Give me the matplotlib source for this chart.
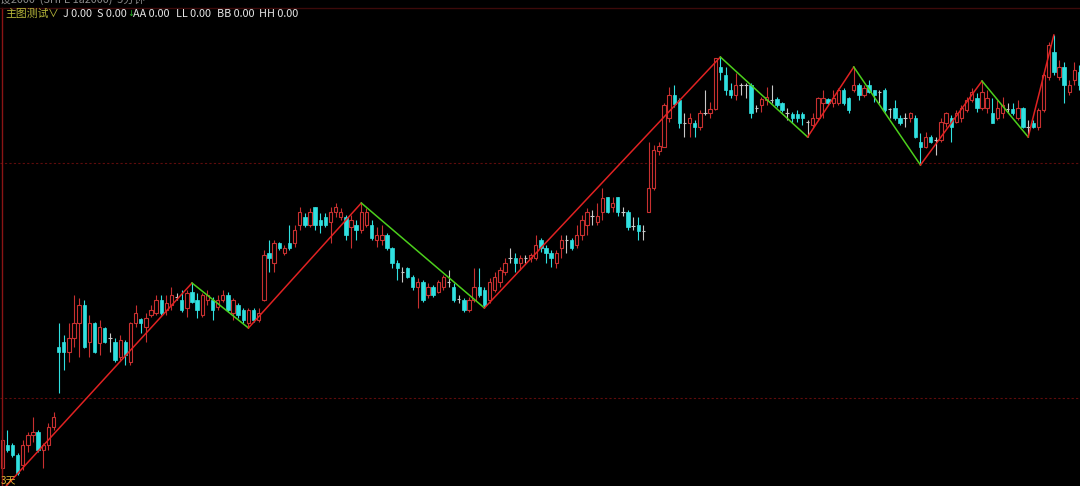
import matplotlib.pyplot as plt
import numpy as np
from matplotlib.lines import Line2D

# K线数据 (第一根在图外, 索引 -1)
opens = [20,
         32, 55, 55, 45, 35, 55, 65, 68, 50, 55,
         73, 153, 158, 148, 162, 177, 195, 158, 177, 157,
         172, 162, 158, 143, 158, 138, 177, 181, 173, 185,
         187, 200, 190, 195, 203, 200, 192, 208, 200, 185,
         200, 200, 193, 200, 205, 187, 195, 190, 177, 190,
         180, 200, 247, 237, 257, 247, 257, 257, 275, 283,
         275, 293, 280, 283, 278, 288, 283, 283, 273, 275,
         270, 275, 275, 260, 260, 265, 252, 237, 228, 232,
         223, 213, 218, 205, 213, 208, 213, 218, 213, 201,
         200, 190, 200, 213, 210, 200, 210, 218, 228, 242,
         242, 237, 242, 242, 242, 260, 252, 247, 237, 252,
         260, 260, 255, 265, 275, 284, 278, 288, 303, 293,
         303, 288, 288, 274, 275, 269, 288, 312, 349, 353,
         382, 405, 400, 377, 377, 377, 373, 387, 387, 391,
         433, 425, 410, 405, 415, 415, 415, 392, 395, 400,
         400, 401, 397, 387, 386, 386, 386, 378, 375, 382,
         397, 401, 397, 397, 410, 402, 410, 415, 405, 415,
         410, 408, 410, 391, 392, 382, 382, 382, 382, 358,
         353, 363, 360, 360, 377, 382, 378, 382, 390, 400,
         402, 392, 392, 387, 382, 387, 391, 391, 382, 392,
         373, 377, 373, 390, 423, 448, 423, 433, 408, 420,
         428]
highs = [24,
         70, 70, 57, 47, 60, 68, 83, 70, 57, 77,
         88, 177, 165, 177, 205, 202, 200, 185, 178, 180,
         173, 167, 162, 165, 160, 178, 195, 182, 187, 195,
         205, 205, 205, 213, 207, 210, 210, 217, 207, 207,
         210, 203, 205, 210, 208, 202, 197, 192, 192, 192,
         192, 250, 260, 260, 258, 255, 275, 275, 293, 287,
         292, 293, 287, 287, 293, 297, 292, 285, 285, 280,
         297, 292, 280, 273, 275, 267, 253, 240, 233, 233,
         225, 222, 220, 217, 215, 220, 225, 230, 217, 205,
         202, 203, 232, 232, 213, 222, 228, 233, 242, 252,
         247, 245, 245, 247, 265, 262, 255, 250, 250, 265,
         265, 262, 275, 285, 292, 290, 297, 312, 303, 303,
         303, 293, 290, 283, 283, 275, 358, 355, 358, 397,
         413, 415, 402, 387, 387, 380, 390, 410, 398, 442,
         443, 433, 417, 427, 417, 417, 417, 395, 403, 413,
         415, 403, 398, 392, 388, 390, 388, 380, 387, 403,
         410, 402, 410, 412, 412, 403, 433, 417, 415, 420,
         410, 410, 412, 392, 400, 385, 387, 388, 385, 367,
         368, 365, 363, 382, 388, 385, 390, 395, 403, 412,
         407, 419, 410, 402, 400, 403, 397, 397, 400, 393,
         380, 380, 392, 427, 458, 465, 440, 438, 420, 438,
         435]
lows = [4,
        27, 48, 43, 25, 30, 48, 58, 48, 32, 50,
        70, 107, 130, 138, 153, 143, 152, 143, 147, 145,
        157, 148, 138, 140, 135, 135, 173, 167, 158, 183,
        185, 185, 185, 190, 200, 188, 183, 197, 182, 183,
        195, 180, 190, 198, 188, 180, 182, 177, 172, 178,
        178, 199, 228, 228, 250, 245, 250, 253, 270, 273,
        273, 270, 267, 273, 257, 283, 280, 260, 252, 260,
        267, 273, 260, 253, 255, 250, 232, 220, 218, 222,
        210, 192, 198, 202, 203, 207, 210, 213, 198, 197,
        188, 188, 198, 203, 192, 197, 208, 213, 225, 237,
        228, 230, 237, 238, 240, 248, 237, 233, 232, 242,
        247, 250, 252, 260, 265, 275, 275, 280, 287, 288,
        284, 284, 270, 270, 260, 260, 288, 310, 345, 353,
        378, 393, 372, 363, 363, 363, 370, 385, 382, 390,
        420, 405, 402, 400, 405, 402, 382, 388, 388, 395,
        397, 393, 388, 380, 377, 378, 375, 363, 372, 380,
        382, 395, 393, 395, 395, 387, 408, 400, 403, 407,
        398, 397, 388, 382, 380, 375, 373, 378, 362, 335,
        352, 357, 345, 358, 373, 358, 377, 378, 388, 398,
        388, 390, 387, 377, 380, 382, 387, 385, 380, 372,
        363, 372, 370, 388, 420, 425, 420, 397, 405, 415,
        410]
closes = [10,
          60, 50, 45, 27, 55, 65, 68, 50, 55, 73,
          83, 148, 148, 162, 177, 195, 153, 177, 148, 173,
          158, 162, 140, 160, 145, 177, 187, 177, 182, 190,
          200, 187, 197, 205, 203, 190, 207, 198, 190, 205,
          205, 190, 200, 205, 190, 200, 185, 180, 190, 180,
          187, 245, 242, 257, 252, 252, 252, 270, 288, 275,
          288, 275, 275, 275, 288, 293, 288, 265, 280, 270,
          288, 288, 262, 265, 265, 252, 237, 232, 228, 223,
          213, 218, 200, 213, 205, 218, 223, 218, 200, 201,
          190, 200, 213, 205, 195, 218, 223, 230, 237, 242,
          237, 242, 242, 245, 255, 252, 247, 242, 247, 260,
          260, 252, 265, 280, 288, 284, 284, 302, 288, 297,
          288, 288, 273, 274, 269, 269, 312, 350, 354, 395,
          405, 396, 377, 377, 382, 373, 387, 387, 391, 442,
          428, 410, 405, 415, 415, 415, 387, 392, 401, 403,
          400, 395, 390, 387, 382, 382, 382, 378, 382, 402,
          402, 397, 402, 410, 397, 390, 415, 405, 412, 408,
          405, 408, 390, 391, 382, 377, 382, 387, 363, 353,
          363, 358, 360, 378, 387, 373, 387, 392, 400, 408,
          392, 408, 402, 377, 392, 395, 391, 387, 392, 373,
          373, 373, 390, 425, 455, 428, 433, 415, 415, 430,
          415]

# 之字线转折点 (低, 高, 低, ...)
pivots = [-1, 37, 48, 70, 94, 140, 157, 166, 179, 191, 200, 205]
grid_levels = [337, 102]

labels = ['J 0.00', 'S 0.00', 'AA 0.00', 'LL 0.00', 'BB 0.00', 'HH 0.00']

RED = '#c83030'
CYAN = '#30e0e0'
GREY = '#c8c8c8'

plt.rcParams['font.family'] = ['Noto Sans CJK SC', 'DejaVu Sans']

o = np.array(opens, dtype=float)
h = np.array(highs, dtype=float)
l = np.array(lows, dtype=float)
c = np.array(closes, dtype=float)
x = np.arange(-1, len(o) - 1)

fig = plt.figure(figsize=(10.8, 4.86), dpi=100, facecolor='black')
ax = fig.add_axes([0, 0, 1, 1])
ax.set_facecolor('black')
ax.set_xlim(-0.43, 210.1)
ax.set_ylim(14, 500)
ax.axis('off')

for lv in grid_levels:
    ax.axhline(lv, color='#5e0c0c', lw=0.8, ls=(0, (2, 2)), zorder=0)

up = c > o
dn = c < o
fl = c == o
w = 0.66

ax.vlines(x[up], l[up], h[up], color=RED, lw=0.8, zorder=1)
ax.vlines(x[dn], l[dn], h[dn], color=CYAN, lw=0.8, zorder=1)
ax.vlines(x[fl], l[fl], h[fl], color=GREY, lw=0.8, zorder=1)

ax.bar(x[up], c[up] - o[up], bottom=o[up], width=w, facecolor='black',
       edgecolor=RED, linewidth=0.8, zorder=2)
ax.bar(x[dn], o[dn] - c[dn], bottom=c[dn], width=w, facecolor=CYAN,
       edgecolor=CYAN, linewidth=0.5, zorder=2)
ax.hlines(c[fl], x[fl] - w / 2, x[fl] + w / 2, color=GREY, lw=0.8, zorder=2)

# 之字线
zz = []
for k, p in enumerate(pivots):
    zz.append(l[p + 1] if k % 2 == 0 else h[p + 1])
for k in range(len(pivots) - 1):
    col = '#e02222' if zz[k + 1] > zz[k] else '#4ccf1c'
    ax.plot([pivots[k], pivots[k + 1]], [zz[k], zz[k + 1]], color=col, lw=1.1, zorder=3)

# 边框
fig.add_artist(Line2D([1.5 / 1080] * 2, [0, 1 - 8 / 486], transform=fig.transFigure,
                      color='#8a1414', lw=1))
fig.add_artist(Line2D([0, 1], [1 - 8 / 486] * 2, transform=fig.transFigure,
                      color='#3c0a0a', lw=1))

# 文字
fs = 7.8
fig.text(0, 1 + 1 / 486, '设2000  (SHFE 1a2000)  5分钟  •', color='#8c8c8c',
         fontsize=fs, va='center')
ty = 1 - 14 / 486
fig.text(5 / 1080, ty, '主图测试', color='#b8b83a', fontsize=fs, va='center')
fig.text(48 / 1080, ty, '∨', color='#b8b83a', fontsize=fs, va='center')
lx = [63, 97, 133, 176, 217, 259]
for px, s in zip(lx, labels):
    fig.text(px / 1080, ty, s, color='#e6e6e6', fontsize=fs, va='center')
fig.text(127.5 / 1080, ty, '↓', color='#22b422', fontsize=6, va='center',
         family='DejaVu Sans')
fig.text(1 / 1080, 1 - 480 / 486, '3天', color='#e4b434', fontsize=7.2, va='center')

fig.savefig('out.png', dpi=100, facecolor='black')
